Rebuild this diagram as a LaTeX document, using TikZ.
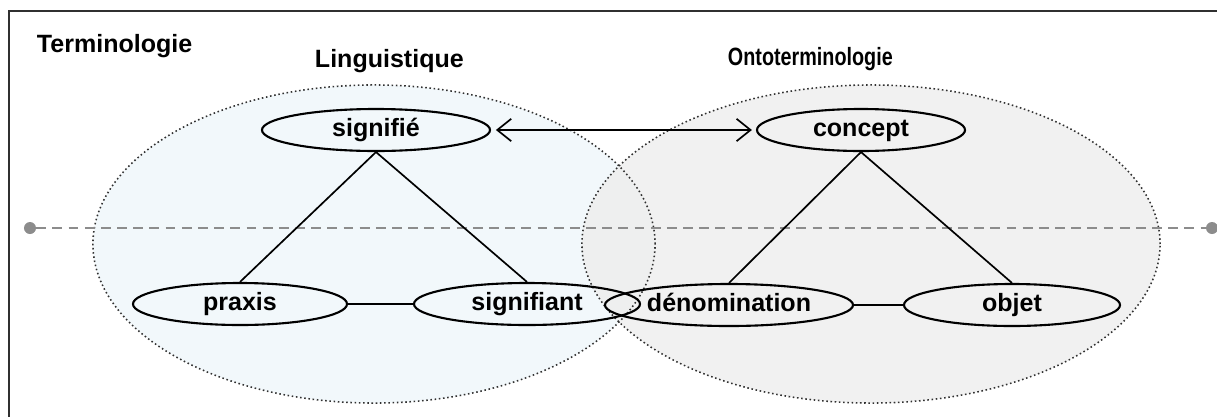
\documentclass[tikz,border=0pt]{standalone}
\usepackage{fontspec}
\setmainfont{Liberation Sans}
\newfontfamily\narrowsans[FakeStretch=0.79]{Liberation Sans}
\usetikzlibrary{shapes.geometric,arrows.meta}
\definecolor{lingfill}{HTML}{F2F8FB}
\definecolor{ontofill}{HTML}{EDEDED}
\definecolor{framecol}{HTML}{303030}
\definecolor{axiscol}{HTML}{8C8C8C}
\tikzset{
  labelfont/.style={font=\bfseries\fontsize{17.8pt}{20pt}\selectfont},
  term/.style={ellipse,draw,line width=1.5pt,inner sep=0pt,minimum height=1.05cm,text height=13pt,text depth=4pt,labelfont},
  zone/.style={draw=framecol,line width=1.1pt,dash pattern=on 1.1pt off 1.9pt},
  link/.style={line width=1.2pt},
  axisdot/.style={circle,fill=axiscol,inner sep=0pt,minimum size=0.3cm},
  axisline/.style={draw=axiscol,line width=1.5pt,dash pattern=on 7pt off 4.5pt}
}
\begin{document}
\begin{tikzpicture}[x=0.025cm,y=-0.025cm]
\useasboundingbox (0,0) rectangle (1217,416);
\fill[lingfill] (374,244) ellipse [x radius=7.025cm, y radius=3.975cm];
\fill[ontofill,opacity=0.8] (871,244) ellipse [x radius=7.225cm, y radius=3.975cm];
\draw[zone] (374,244) ellipse [x radius=7.025cm, y radius=3.975cm];
\draw[zone] (871,244) ellipse [x radius=7.225cm, y radius=3.975cm];
\draw[framecol,line width=1.4pt] (9,420) -- (9,11) -- (1220,11);
\node[labelfont,anchor=base west] (termino) at (32,52) {Terminologie};
\node[labelfont,anchor=base west] (ling) at (310,67) {Linguistique};
\node[font=\narrowsans\bfseries\fontsize{17.8pt}{20pt}\selectfont,anchor=base west] (onto) at (723,65) {Ontoterminologie};
\node[axisdot] (axl) at (30,228) {};
\node[axisdot] (axr) at (1212,228) {};
\draw[axisline] (axl) -- (axr);
\node[term,minimum width=5.7cm] (signifie) at (376,130) {signifié};
\node[term,minimum width=5.2cm] (concept) at (861,130) {concept};
\node[term,minimum width=5.35cm] (praxis) at (240,304) {praxis};
\node[term,minimum width=5.65cm] (signifiant) at (527,304) {signifiant};
\node[term,minimum width=6.2cm] (denom) at (729,305) {dénomination};
\node[term,minimum width=5.4cm] (objet) at (1012,305) {objet};
\draw[link] (signifie.south) -- (praxis.north);
\draw[link] (signifie.south) -- (signifiant.north);
\draw[link] (praxis.east) -- (signifiant.west);
\draw[link] (concept.south) -- (denom.north);
\draw[link] (concept.south) -- (objet.north);
\draw[link] (denom.east) -- (objet.west);
\draw[link,{Straight Barb[length=3.5mm,width=5.6mm]}-{Straight Barb[length=3.5mm,width=5.6mm]},shorten <=0.12cm,shorten >=0.1cm] (signifie) -- (concept);
\end{tikzpicture}
\end{document}
